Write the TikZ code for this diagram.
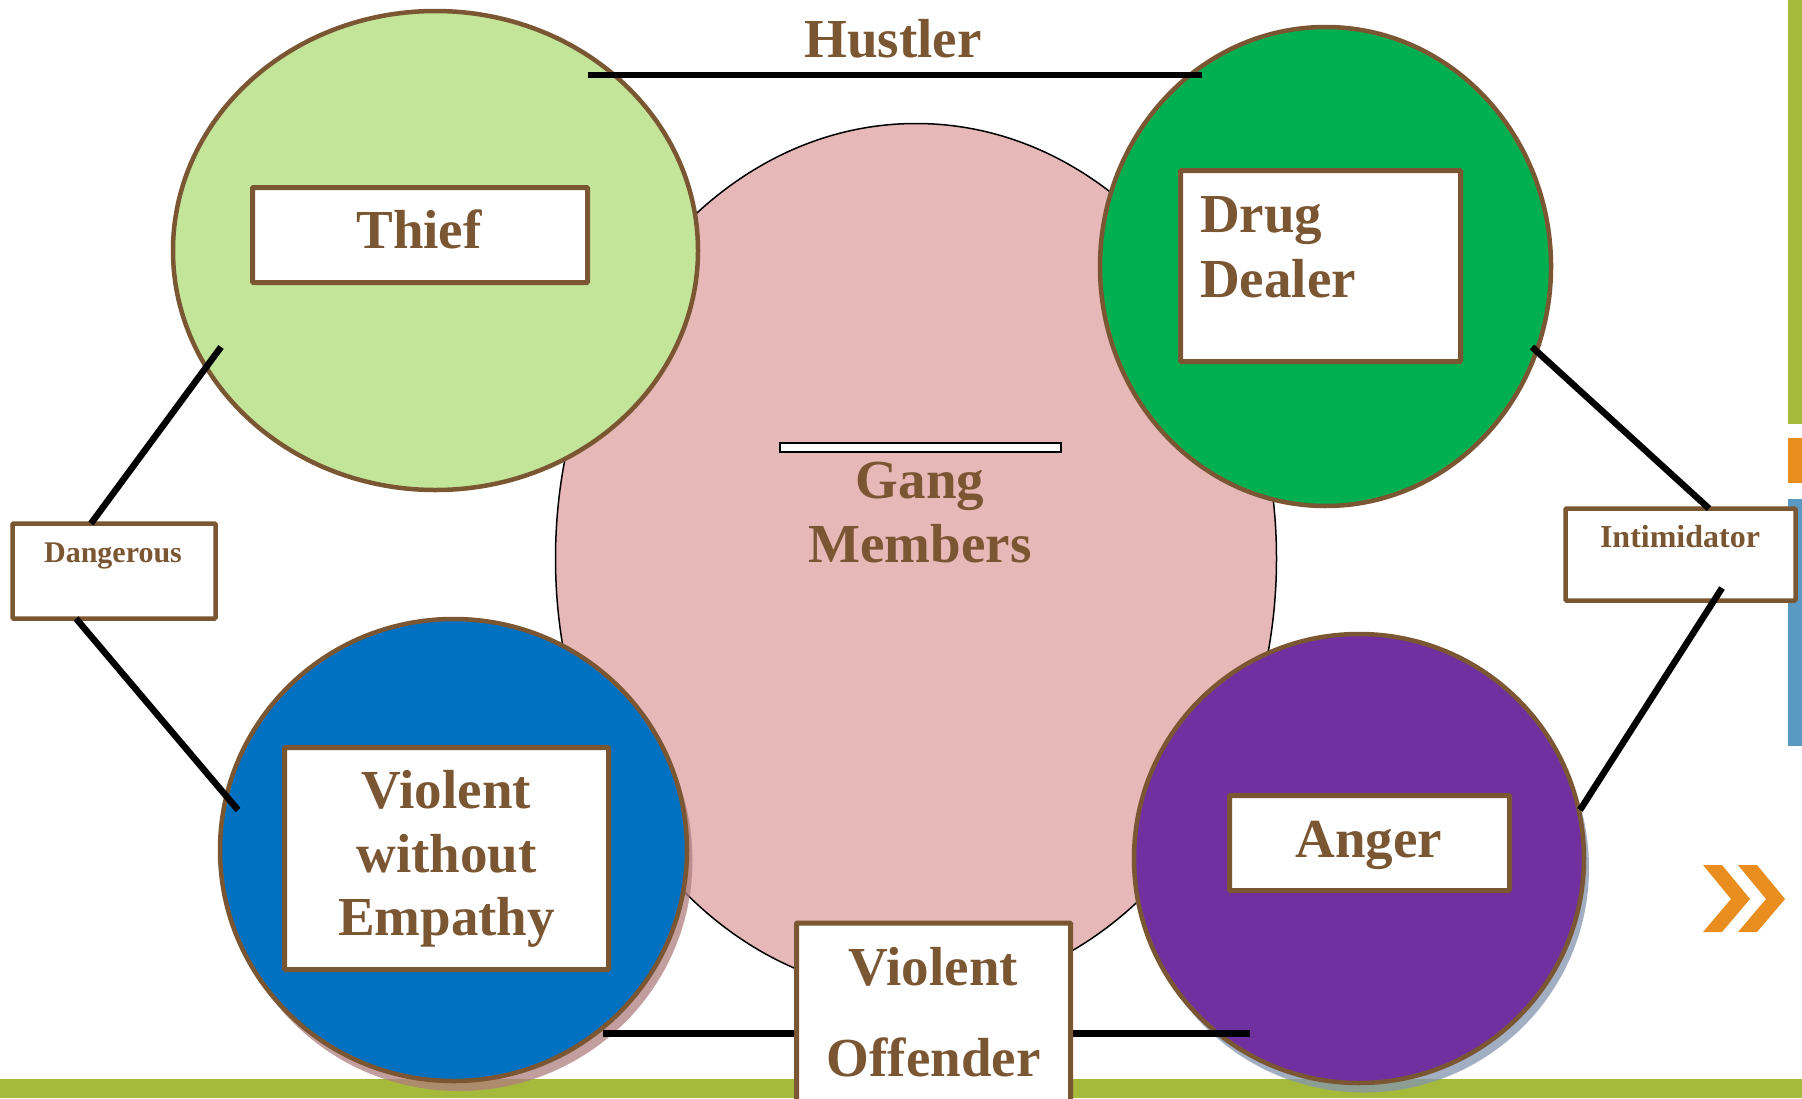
\documentclass[tikz,border=0pt]{standalone}
\usepackage{fontspec}
\setmainfont{Liberation Serif}
\usetikzlibrary{shapes.geometric}
\definecolor{brn}{HTML}{7A5632}
\definecolor{lgreen}{HTML}{C2E599}
\definecolor{dgreen}{HTML}{00B050}
\definecolor{cblue}{HTML}{0070C0}
\definecolor{cpurple}{HTML}{7030A0}
\definecolor{cpink}{HTML}{E6B8B7}
\definecolor{bargreen}{HTML}{A5B93B}
\definecolor{barorange}{HTML}{E98E1E}
\definecolor{barblue}{HTML}{5A9AC2}
\definecolor{shpink}{HTML}{B07E80}
\definecolor{shblue}{HTML}{8494AE}
\begin{document}
\begin{tikzpicture}[x=1pt,y=-1pt,
  circ/.style={ellipse, draw=brn, line width=4.5pt, inner sep=0pt, outer sep=0pt},
  shad/.style={ellipse, inner sep=0pt, outer sep=0pt, opacity=0.75},
  tbox/.style={rectangle, draw=brn, line width=5pt, fill=white, inner sep=0pt, outer sep=0pt, rounded corners=1pt},
  lbl/.style={text=brn, font=\fontsize{55}{65}\selectfont\bfseries, anchor=base, inner sep=0pt},
  slbl/.style={text=brn, font=\fontsize{30}{36}\selectfont\bfseries, anchor=base, inner sep=0pt},
  conn/.style={line width=6.5pt, black},
  bar/.style={draw=none, inner sep=0pt, outer sep=0pt, rectangle}
]
\useasboundingbox (0,0) rectangle (1802,1098);
\clip (0,0) rectangle (1802,1098);
\fill[white] (0,0) rectangle (1802,1098);

% frame bars
\fill[bargreen] (0,1079) rectangle (1802,1098);
\fill[bargreen] (1788,0) rectangle (1802,424);
\fill[barorange] (1788,438) rectangle (1802,483);
\fill[barblue] (1788,499) rectangle (1802,746);

% central ellipse
\node[ellipse, draw=black, line width=1.5pt, fill=cpink, inner sep=0pt, minimum width=721, minimum height=870] (gang) at (916,558.5) {};

% shadows
\node[shad, fill=shpink, minimum width=467, minimum height=462] (blueshadow) at (459,860) {};
\node[shad, fill=shblue, minimum width=450, minimum height=449] (purpleshadow) at (1364,868) {};

% circles
\node[circ, fill=lgreen, minimum width=525, minimum height=479] (thief) at (435.5,250.5) {};
\node[circ, fill=dgreen, minimum width=451, minimum height=479] (drug) at (1325.5,266.5) {};
\node[circ, fill=cblue, minimum width=467, minimum height=462] (violent) at (453.5,850) {};
\node[circ, fill=cpurple, minimum width=450, minimum height=449] (anger) at (1359,858.5) {};

% gang members bar
\node[rectangle, draw=black, line width=2pt, fill=white, inner sep=0pt, minimum width=281, minimum height=9] (gangbar) at (920.5,447.5) {};

% connector coordinates
\coordinate (h1) at (588,75);
\coordinate (h2) at (1202,75);
\coordinate (d1) at (221,347);
\coordinate (d2) at (238,810);
\coordinate (i1) at (1532,347);
\coordinate (i2) at (1722,588);
\coordinate (i3) at (1580,810);
\coordinate (b1) at (603,1033.5);
\coordinate (b2) at (1250,1033.5);

% boxes
\node[tbox, minimum width=335, minimum height=95] (thiefbox) at (420,235) {};
\node[tbox, minimum width=280, minimum height=191] (drugbox) at (1320.5,266) {};
\node[tbox, minimum width=324, minimum height=222] (violentbox) at (446.5,858.5) {};
\node[tbox, minimum width=280, minimum height=95] (angerbox) at (1369.5,843) {};
\node[tbox, line width=4.5pt, minimum width=203, minimum height=95] (dangbox) at (114,571) {};
\node[tbox, line width=4.5pt, minimum width=230, minimum height=92] (intbox) at (1680.5,554.5) {};

% connectors
\draw[conn] (h1) -- (h2);
\draw[conn] (d1) -- ([xshift=78.5]dangbox.north west);
\draw[conn] ([xshift=63.5]dangbox.south west) -- (d2);
\draw[conn] (i1) -- ([xshift=143.5]intbox.north west);
\draw[conn] (b1) -- (b2);

\node[tbox, minimum width=274, minimum height=184] (offbox) at (933.5,1015) {};
\draw[conn] (i2) -- (i3);

% texts
\node[lbl] (hustler) at (893,57) {Hustler};
\node[lbl] (thieft) at (419,248) {Thief};
\node[lbl, anchor=base west] (drug1) at (1200,232) {Drug};
\node[lbl, anchor=base west] (drug2) at (1200,297) {Dealer};
\node[lbl] (gang1) at (920,498) {Gang};
\node[lbl] (gang2) at (920,562) {Members};
\node[lbl] (viol1) at (446.5,808) {Violent};
\node[lbl] (viol2) at (446.5,872) {without};
\node[lbl] (viol3) at (446.5,935) {Empathy};
\node[lbl] (angert) at (1369,857) {Anger};
\node[lbl] (off1) at (933.5,985) {Violent};
\node[lbl] (off2) at (933.5,1076) {Offender};
\node[slbl] (dangt) at (113,562) {Dangerous};
\node[slbl, font=\fontsize{32}{38}\selectfont\bfseries] (intt) at (1680,547) {Intimidator};

% chevrons
\fill[barorange] (1703,865) -- (1722,865) -- (1750,899) -- (1722,932) -- (1703,932) -- (1731,899) -- cycle;
\fill[barorange] (1738,865) -- (1757,865) -- (1785,899) -- (1757,932) -- (1738,932) -- (1766,899) -- cycle;
\end{tikzpicture}
\end{document}
